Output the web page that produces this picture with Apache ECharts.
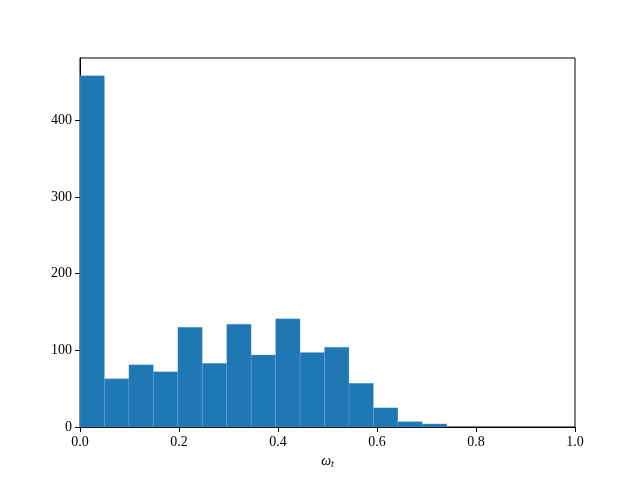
<!DOCTYPE html>
<html>
<head>
<meta charset="utf-8">
<script src="https://cdn.jsdelivr.net/npm/echarts@6/dist/echarts.min.js"></script>
<style>
  html, body { margin: 0; padding: 0; background: #fff; }
  #chart { width: 640px; height: 480px; }
</style>
</head>
<body>
<div id="chart"></div>
<script>
// histogram bin edges (omega_t) and counts per bin
var binEdges = [0, 0.0494, 0.0988, 0.1482, 0.1976, 0.247, 0.2964, 0.3458, 0.3952,
                0.4446, 0.494, 0.5434, 0.5928, 0.6422, 0.6916, 0.741];
var counts = [458, 63, 81, 72, 130, 83, 134, 94, 141, 97, 104, 57, 25, 7, 4];
var xTicks = [0, 0.2, 0.4, 0.6, 0.8, 1.0];
var yTicks = [0, 100, 200, 300, 400];

var font = "Liberation Serif";

// each bar = [left edge, right edge, count]
var bars = counts.map(function (c, i) {
  return [binEdges[i], binEdges[i + 1], c];
});

var chart = echarts.init(document.getElementById("chart"), null, { renderer: "canvas" });

var option = {
  animation: false,
  grid: {
    left: 80,
    right: 65,
    top: 58,
    bottom: 53,
    show: true,
    borderColor: "#000",
    borderWidth: 1,
    backgroundColor: "transparent"
  },
  xAxis: {
    type: "value",
    min: 0,
    max: 1,
    interval: 0.2,
    name: "{w|ω}{t|t}",
    nameLocation: "middle",
    nameGap: 26,
    nameTextStyle: {
      rich: {
        w: { fontFamily: font, fontStyle: "italic", fontSize: 14, color: "#000" },
        t: { fontFamily: font, fontStyle: "italic", fontSize: 10, color: "#000", verticalAlign: "bottom", padding: [6, 0, 0, 0] }
      }
    },
    axisLine: { show: true, lineStyle: { color: "#000", width: 1 } },
    axisTick: { show: true, inside: false, length: 5, lineStyle: { color: "#000" } },
    axisLabel: {
      color: "#000",
      fontFamily: font,
      fontSize: 14,
      margin: 8,
      formatter: function (v) { return v.toFixed(1); }
    },
    splitLine: { show: false }
  },
  yAxis: {
    type: "value",
    min: 0,
    max: 481,
    interval: 100,
    axisLine: { show: true, lineStyle: { color: "#000", width: 1 } },
    axisTick: { show: true, length: 5, customValues: yTicks, lineStyle: { color: "#000" } },
    axisLabel: {
      color: "#000",
      fontFamily: font,
      fontSize: 14,
      margin: 8,
      customValues: yTicks
    },
    splitLine: { show: false }
  },
  series: [{
    type: "custom",
    data: bars,
    encode: { x: [0, 1], y: 2 },
    renderItem: function (params, api) {
      var p0 = api.coord([api.value(0), 0]);
      var p1 = api.coord([api.value(1), api.value(2)]);
      return {
        type: "rect",
        shape: { x: p0[0], y: p1[1], width: p1[0] - p0[0], height: p0[1] - p1[1] },
        style: { fill: "#1f77b4", stroke: "rgba(120,170,215,0.6)", lineWidth: 0.5 }
      };
    }
  }]
};

chart.setOption(option);
</script>
</body>
</html>
